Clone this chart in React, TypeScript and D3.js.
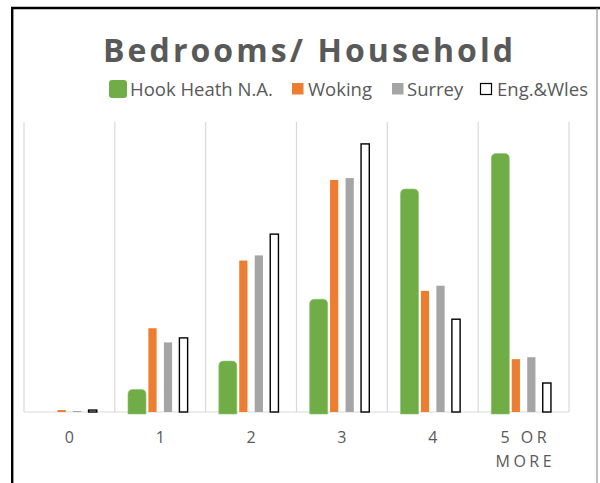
import React from "react";
import * as d3 from "d3";

const categories = ["0", "1", "2", "3", "4", "5 OR MORE"];
const seriesNames = ["Hook Heath N.A.", "Woking", "Surrey", "Eng.&Wles"];
const hookHeath = [0, 3.5, 7.9, 17.5, 34.6, 40.1];
const woking = [0.3, 13.0, 23.5, 36.0, 18.8, 8.2];
const surrey = [0.15, 10.8, 24.3, 36.3, 19.6, 8.5];
const engWales = [0.3, 11.5, 27.6, 41.6, 14.4, 4.5];
const yMax = 45;

const W = 600;
const H = 483;
const plotLeft = 24;
const plotRight = 569;
const plotTop = 122;
const plotBottom = 412;

const GREEN = "#70AD47";
const ORANGE = "#ED7D31";
const GRAY = "#A5A5A5";
const TEXT = "#595959";
const GRID = "#d9d9d9";
const FONT = "'Open Sans', 'DejaVu Sans', sans-serif";

export default function App() {
  const x = d3
    .scaleBand<string>()
    .domain(categories)
    .range([plotLeft, plotRight])
    .paddingInner(0)
    .paddingOuter(0);
  const bw = x.bandwidth();
  const xs = d3
    .scaleBand<string>()
    .domain(seriesNames)
    .range([0, bw])
    .paddingInner(0.47)
    .paddingOuter(1.164);
  const y = d3.scaleLinear().domain([0, yMax]).range([plotBottom, plotTop]);

  const greenW = 18;
  const r = 5;

  const greenPath = (cx: number, v: number) => {
    const top = y(v);
    const bottom = plotBottom + 2;
    const x0 = cx - greenW / 2;
    const x1 = cx + greenW / 2;
    const rr = Math.min(r, (bottom - top) / 2);
    const p = d3.path();
    p.moveTo(x0, bottom);
    p.lineTo(x0, top + rr);
    p.quadraticCurveTo(x0, top, x0 + rr, top);
    p.lineTo(x1 - rr, top);
    p.quadraticCurveTo(x1, top, x1, top + rr);
    p.lineTo(x1, bottom);
    p.closePath();
    return p.toString();
  };

  const gridXs = [...categories.map((c) => x(c) as number), plotRight];

  const legendItems = [
    { name: seriesNames[0], sx: 109, sy: 80, s: 18, fill: GREEN, stroke: "none", rx: 3, tx: 130, tl: 145 },
    { name: seriesNames[1], sx: 292, sy: 83, s: 11.5, fill: ORANGE, stroke: "none", rx: 0, tx: 308, tl: 67 },
    { name: seriesNames[2], sx: 392, sy: 83, s: 11.5, fill: GRAY, stroke: "none", rx: 0, tx: 407, tl: 57 },
    { name: seriesNames[3], sx: 480.5, sy: 83.5, s: 11, fill: "#fff", stroke: "#000", rx: 0, tx: 497, tl: 95 },
  ];

  return (
    <svg
      width={W}
      height={H}
      style={{ position: "absolute", left: 0, top: 0, background: "#fff" }}
      fontFamily={FONT}
    >
      <rect x={0} y={0} width={W} height={H} fill="#fff" />
      {/* frame */}
      <line x1={12.2} y1={7} x2={12.2} y2={H} stroke="#000" strokeWidth={2.4} />
      <line x1={11} y1={8} x2={W} y2={8} stroke="#000" strokeWidth={2.4} />
      <line x1={597} y1={8} x2={597} y2={H} stroke="#7f7f7f" strokeWidth={1} />

      {/* title */}
      <text
        x={103}
        y={62}
        fontSize={32}
        fontWeight="bold"
        fill={TEXT}
        textLength={410}
        lengthAdjust="spacing"
      >
        Bedrooms/ Household
      </text>

      {/* legend */}
      {legendItems.map((it) => (
        <g key={it.name}>
          <rect
            x={it.sx}
            y={it.sy}
            width={it.s}
            height={it.s}
            rx={it.rx}
            fill={it.fill}
            stroke={it.stroke}
            strokeWidth={1.2}
          />
          <text x={it.tx} y={95.5} fontSize={18.5} fill={TEXT}>
            {it.name}
          </text>
        </g>
      ))}

      {/* grid */}
      {gridXs.map((gx, i) => (
        <line key={i} x1={gx} x2={gx} y1={plotTop} y2={plotBottom} stroke={GRID} strokeWidth={1.2} />
      ))}
      <line x1={plotLeft} x2={plotRight} y1={plotBottom} y2={plotBottom} stroke={GRID} strokeWidth={1.2} />

      {/* bars */}
      {categories.map((c, i) => {
        const bx = x(c) as number;
        const gcx = bx + (xs(seriesNames[0]) as number) + xs.bandwidth() / 2;
        const ox = bx + (xs(seriesNames[1]) as number);
        const sx = bx + (xs(seriesNames[2]) as number);
        const ex = bx + (xs(seriesNames[3]) as number);
        return (
          <g key={c}>
            {hookHeath[i] > 0 && <path d={greenPath(gcx, hookHeath[i])} fill={GREEN} stroke="#8cc46a" strokeWidth={0.6} />}
            <rect x={ox} y={y(woking[i])} width={xs.bandwidth()} height={plotBottom - y(woking[i])} fill={ORANGE} />
            <rect x={sx} y={y(surrey[i])} width={xs.bandwidth()} height={plotBottom - y(surrey[i])} fill={GRAY} />
            <rect
              x={ex}
              y={y(engWales[i])}
              width={xs.bandwidth()}
              height={plotBottom - y(engWales[i])}
              fill="#fff"
              stroke="#000"
              strokeWidth={1.4}
            />
          </g>
        );
      })}

      {/* category labels */}
      {categories.map((c) => {
        const cx = (x(c) as number) + bw / 2;
        const words = c === "5 OR MORE" ? ["5 OR", "MORE"] : [c];
        return (
          <text key={c} fontSize={16} fill={TEXT} textAnchor="middle" letterSpacing={words.length > 1 ? 3.5 : 0}>
            {words.map((w, j) => (
              <tspan key={j} x={cx + (words.length > 1 ? 1.75 : 0)} y={443 + j * 23.5}>
                {w}
              </tspan>
            ))}
          </text>
        );
      })}
    </svg>
  );
}
